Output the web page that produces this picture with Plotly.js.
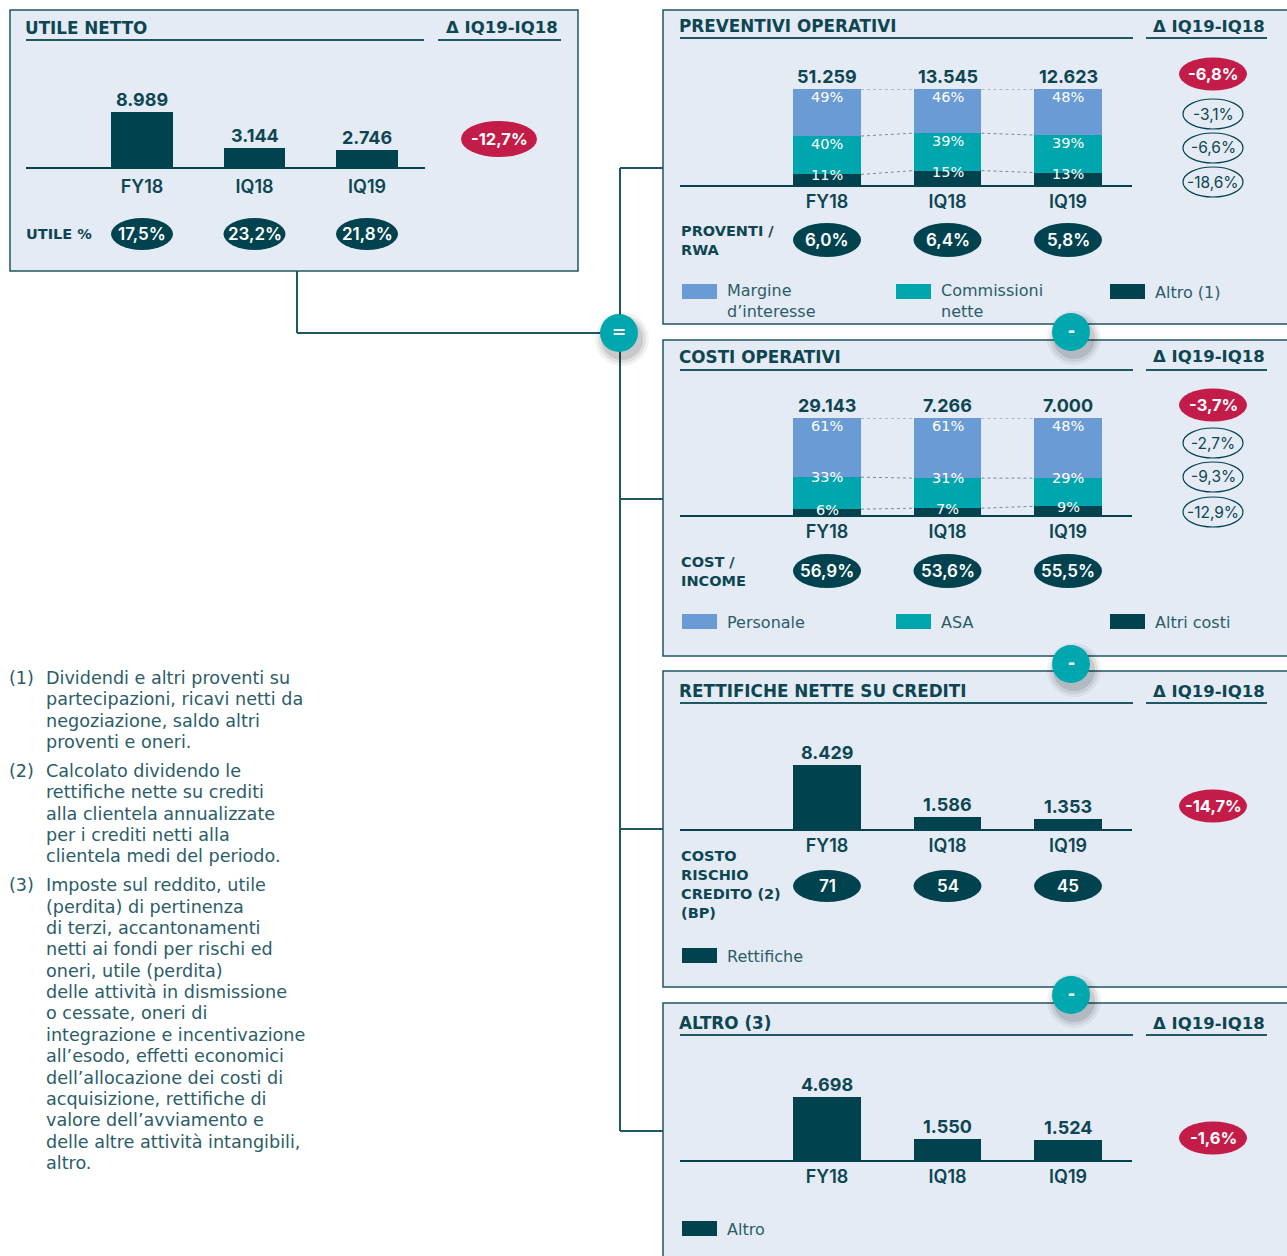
<!DOCTYPE html>
<html><head><meta charset="utf-8">
<script src="https://cdn.plot.ly/plotly-3.0.1.min.js"></script>
<style>html,body{margin:0;padding:0;background:#fff}#chart{width:1287px;height:1256px}</style>
</head><body><div id="chart"></div>
<script>
// ---------------- DATA ----------------
const categories = ['FY18', 'IQ18', 'IQ19'];
const deltaLabel = 'Δ IQ19-IQ18';

const utileNetto = [8989, 3144, 2746];
const utilePct = ['17,5%', '23,2%', '21,8%'];
const utileDelta = ['-12,7%'];

const proventiTot = [51259, 13545, 12623];
const provMargine = [49, 46, 48];
const provCommissioni = [40, 39, 39];
const provAltro = [11, 15, 13];
const proventiRwa = ['6,0%', '6,4%', '5,8%'];
const proventiDelta = ['-6,8%', '-3,1%', '-6,6%', '-18,6%'];
const proventiLegend = [['Margine', 'd’interesse'], ['Commissioni', 'nette'], ['Altro (1)']];

const costiTot = [29143, 7266, 7000];
const costiPersonale = [61, 61, 48];
const costiAsa = [33, 31, 29];
const costiAltri = [6, 7, 9];
const costIncome = ['56,9%', '53,6%', '55,5%'];
const costiDelta = ['-3,7%', '-2,7%', '-9,3%', '-12,9%'];
const costiLegend = [['Personale'], ['ASA'], ['Altri costi']];

const rettifiche = [8429, 1586, 1353];
const costoRischio = ['71', '54', '45'];
const rettificheDelta = ['-14,7%'];

const altro = [4698, 1550, 1524];
const altroDelta = ['-1,6%'];

const footnotes = [
  ['(1)', ['Dividendi e altri proventi su', 'partecipazioni, ricavi netti da', 'negoziazione, saldo altri', 'proventi e oneri.']],
  ['(2)', ['Calcolato dividendo le', 'rettifiche nette su crediti', 'alla clientela annualizzate', 'per i crediti netti alla', 'clientela medi del periodo.']],
  ['(3)', ['Imposte sul reddito, utile', '(perdita) di pertinenza', 'di terzi, accantonamenti', 'netti ai fondi per rischi ed', 'oneri, utile (perdita)', 'delle attività in dismissione', 'o cessate, oneri di', 'integrazione e incentivazione', 'all’esodo, effetti economici', 'dell’allocazione dei costi di', 'acquisizione, rettifiche di', 'valore dell’avviamento e', 'delle altre attività intangibili,', 'altro.']]
];

// ---------------- STYLE / LAYOUT HELPERS ----------------
const W = 1287, H = 1256;
const PX = x => x / W, PY = y => 1 - y / H;
const C = {dark:'#00434f', blue:'#6a9bd4', teal:'#00a6ae', red:'#c41c48', box:'#e4ebf5',
           border:'#1f5763', text:'#0d4652', legend:'#2b5d68', grey:'#7d8a90', circle:'#00a7ae'};
const FT = '"DejaVu Sans", "Noto Sans", sans-serif';
const FN = 'Inter, "Open Sans", sans-serif';
const fmt = n => String(n).replace(/\B(?=(\d{3})+(?!\d))/g, '.');

const traces = [], shapes = [], annotations = [];
const layout = {width: W, height: H, margin: {l:0, r:0, t:0, b:0}, paper_bgcolor: '#ffffff',
  plot_bgcolor: 'rgba(0,0,0,0)', showlegend: false, barmode: 'stack', bargap: 0,
  font: {family: FT, color: C.text}, shapes: shapes, annotations: annotations};

function font(size, color, weight, fam) { return {family: fam || FT, size: size, color: color || C.text, weight: weight || 400}; }
function txt(x, y, text, f, xanchor, extra) {
  annotations.push(Object.assign({xref:'paper', yref:'paper', x: PX(x), y: PY(y), text: text, showarrow: false,
    xanchor: xanchor || 'left', yanchor: 'middle', align: 'left', font: f}, extra || {}));
}
function rect(x0, y0, x1, y1, fill, line, lw) {
  shapes.push({type:'rect', xref:'paper', yref:'paper', x0:PX(x0), x1:PX(x1), y0:PY(y1), y1:PY(y0),
    fillcolor: fill, line: {color: line || 'rgba(0,0,0,0)', width: lw || 0}, layer:'below'});
}
function line(x0, y0, x1, y1, color, w) {
  shapes.push({type:'line', xref:'paper', yref:'paper', x0:PX(x0), x1:PX(x1), y0:PY(y0), y1:PY(y1),
    line: {color: color, width: w}, layer:'below'});
}
function ellipse(cx, cy, w, h, fill, lineColor, lw) {
  shapes.push({type:'circle', xref:'paper', yref:'paper', x0:PX(cx - w/2), x1:PX(cx + w/2), y0:PY(cy + h/2), y1:PY(cy - h/2),
    fillcolor: fill, line: {color: lineColor || 'rgba(0,0,0,0)', width: lw || 0}, layer:'below'});
}

// ---------------- BACKGROUND BOXES & CONNECTORS ----------------
rect(10, 10, 578, 271, C.box, C.border, 1.5);
rect(663, 10, 1300, 324, C.box, C.border, 1.5);
rect(663, 340, 1300, 656, C.box, C.border, 1.5);
rect(663, 671, 1300, 987, C.box, C.border, 1.5);
rect(663, 1003, 1300, 1280, C.box, C.border, 1.5);

line(297, 271, 297, 333, C.border, 2);
line(297, 333, 620, 333, C.border, 2);
line(620, 168, 620, 1131, C.border, 2);
[168, 499, 829, 1131].forEach(y => line(620, y, 663, y, C.border, 2));

// ---------------- PANELS ----------------
function makeAxes(s, cfg) {
  layout['xaxis' + s] = {domain:[PX(cfg.x0), PX(cfg.x1)], range:[(cfg.x0 - cfg.c0)/cfg.sp, (cfg.x1 - cfg.c0)/cfg.sp],
    anchor:'y' + s, tickmode:'array', tickvals:[0,1,2], ticktext:categories, ticks:'', showline:true, linecolor:C.dark,
    linewidth:2, showgrid:false, zeroline:false, fixedrange:true, tickfont: font(18, C.text, 600, FN),
    ticklabelstandoff: cfg.standoff};
  layout['yaxis' + s] = {domain:[PY(cfg.base), PY(cfg.top)], range:[0, cfg.ymax], visible:false, fixedrange:true};
}
function header(x0, x1, dx0, dx1, y, uy, title) {
  txt(x0 - 3, y, title, font(16.8, C.text, 700));
  line(x0, uy, x1, uy, C.border, 2.2);
  txt((dx0 + dx1)/2 + 2, y, deltaLabel, font(16.5, C.text, 700), 'center');
  line(dx0, uy, dx1, uy, C.border, 2.2);
}
function rowLabel(x, y, lines) {
  txt(x, y, lines.join('<br>'), font(14.5, C.text, 700), 'left');
}
function pills(s, cfg, labels, cy, wpx, hpx) {
  labels.forEach((lab, i) => {
    const w = wpx / cfg.sp;
    shapes.push({type:'circle', xref:'x' + s, yref:'paper', x0:i - w/2, x1:i + w/2, y0:PY(cy + hpx/2), y1:PY(cy - hpx/2),
      fillcolor:C.dark, line:{width:0}, layer:'below'});
    annotations.push({xref:'x' + s, yref:'paper', x:i, y:PY(cy), text:lab, showarrow:false, xanchor:'center', yanchor:'middle',
      font: font(17, '#ffffff', 600, FN)});
  });
}
function deltas(list, cx, cys, rw, rh) {
  list.forEach((lab, k) => {
    if (k === 0) {
      ellipse(cx, cys[k], rw || 68, rh || 33, C.red);
      txt(cx, cys[k], lab, font(16.5, '#ffffff', 700, FN), 'center');
    } else {
      ellipse(cx, cys[k], 60, 30, 'rgba(0,0,0,0)', C.dark, 1.2);
      txt(cx, cys[k], lab, font(15.5, C.text, 400, FN), 'center');
    }
  });
}
function legend(items, colors, y) {
  const xs = [682, 896, 1110];
  items.forEach((lines, k) => {
    rect(xs[k], y - 8, xs[k] + 35, y + 7, colors[k]);
    txt(xs[k] + 43, y + (lines.length - 1) * 9, lines.join('<br>'), font(16, C.legend, 400), 'left');
  });
}
function simpleBars(s, cfg, values, color, w) {
  traces.push({type:'bar', x:[0,1,2], y:values, xaxis:'x' + s, yaxis:'y' + s, width:w, marker:{color:color, line:{width:0}},
    hoverinfo:'skip'});
  values.forEach((v, i) => annotations.push({xref:'x' + s, yref:'y' + s, x:i, y:v, yshift:0, text:fmt(v), showarrow:false,
    xanchor:'center', yanchor:'bottom', font: font(18, C.text, 700, FN)}));
}
function stackedBars(s, cfg, series, colors, totals, w, midShift) {
  // series: [bottom, middle, top] percentages; the top segment fills the rest of each 100% bar
  const b1 = series[0].slice();
  const b2 = series[0].map((v, i) => v + series[1][i]);
  const b3 = [100, 100, 100];
  const drawn = [series[0], series[1], b2.map(v => 100 - v)];
  drawn.forEach((sh, k) => traces.push({type:'bar', x:[0,1,2], y:sh, xaxis:'x' + s, yaxis:'y' + s, width:w,
    marker:{color:colors[k], line:{width:0}}, hoverinfo:'skip'}));
  [b1, b2, b3].forEach(b => {
    const xs = [], ys = [];
    for (let i = 0; i < 2; i++) { xs.push(i + w/2, i + 1 - w/2, null); ys.push(b[i], b[i+1], null); }
    traces.push({type:'scatter', mode:'lines', x:xs, y:ys, xaxis:'x' + s, yaxis:'y' + s, hoverinfo:'skip',
      line:{color:C.grey, width:1, dash:'dot'}});
  });
  const segFont = font(14.5, '#ffffff', 400);
  [0,1,2].forEach(i => {
    annotations.push({xref:'x' + s, yref:'y' + s, x:i, y:b3[i], text:series[2][i] + '%', showarrow:false, yanchor:'middle', yshift:-8, font: segFont});
    annotations.push({xref:'x' + s, yref:'y' + s, x:i, y:b2[i], text:series[1][i] + '%', showarrow:false, yanchor:'middle', yshift:midShift, font: segFont});
    annotations.push({xref:'x' + s, yref:'y' + s, x:i, y:b1[i], text:series[0][i] + '%', showarrow:false, yanchor:'middle', yshift:-1, font: segFont});
    annotations.push({xref:'x' + s, yref:'y' + s, x:i, y:100, yshift:0, text:fmt(totals[i]), showarrow:false, yanchor:'bottom',
      font: font(18, C.text, 700, FN)});
  });
}

// Panel 1: UTILE NETTO
const P1 = {x0:26, x1:425, c0:142, sp:112.5, base:167, top:100, ymax:11000, standoff:2};
makeAxes('', P1);
header(26, 424, 438, 561, 28, 40, 'UTILE NETTO');
simpleBars('', P1, utileNetto, C.dark, 0.55);
rowLabel(24, 234, ['UTILE %']);
pills('', P1, utilePct, 234, 62, 32);
deltas(utileDelta, 499, [139], 76, 36);

// Panel 2: PROVENTI OPERATIVI
const P2 = {x0:680, x1:1132, c0:827, sp:120.5, base:185, top:89, ymax:100, standoff:-1};
makeAxes('2', P2);
header(680, 1133, 1146, 1267, 26, 38, 'PREVENTIVI OPERATIVI');
stackedBars('2', P2, [provAltro, provCommissioni, provMargine], [C.dark, C.teal, C.blue], proventiTot, 0.564, -8);
rowLabel(679, 241, ['PROVENTI /', 'RWA']);
pills('2', P2, proventiRwa, 240, 68, 34);
deltas(proventiDelta, 1213, [74, 114, 148, 182]);
legend(proventiLegend, [C.blue, C.teal, C.dark], 292);

// Panel 3: COSTI OPERATIVI
const P3 = {x0:680, x1:1132, c0:827, sp:120.5, base:515, top:418, ymax:100, standoff:-1};
makeAxes('3', P3);
header(680, 1133, 1146, 1267, 357, 370, 'COSTI OPERATIVI');
stackedBars('3', P3, [costiAltri, costiAsa, costiPersonale], [C.dark, C.teal, C.blue], costiTot, 0.564, 0);
rowLabel(679, 571, ['COST /', 'INCOME']);
pills('3', P3, costIncome, 571, 68, 34);
deltas(costiDelta, 1213, [405, 443, 477, 512]);
legend(costiLegend, [C.blue, C.teal, C.dark], 622);

// Panel 4: RETTIFICHE NETTE SU CREDITI
const P4 = {x0:680, x1:1132, c0:827, sp:120.5, base:829, top:740, ymax:11720, standoff:-1};
makeAxes('4', P4);
header(680, 1133, 1146, 1267, 691, 703, 'RETTIFICHE NETTE SU CREDITI');
simpleBars('4', P4, rettifiche, C.dark, 0.564);
rowLabel(679, 884, ['COSTO', 'RISCHIO', 'CREDITO (2)', '(BP)']);
pills('4', P4, costoRischio, 886, 68, 32);
deltas(rettificheDelta, 1213, [806]);
legend([['Rettifiche']], [C.dark], 956);

// Panel 5: ALTRO
const P5 = {x0:680, x1:1132, c0:827, sp:120.5, base:1160, top:1070, ymax:6700, standoff:-1};
makeAxes('5', P5);
header(680, 1133, 1146, 1267, 1023, 1035, 'ALTRO (3)');
simpleBars('5', P5, altro, C.dark, 0.564);
deltas(altroDelta, 1213, [1138]);
legend([['Altro']], [C.dark], 1229);

// Operator circles (with soft shadow)
[[619, 333, '='], [1071, 332, '-'], [1071, 664, '-'], [1071, 995, '-']].forEach(([cx, cy, sym]) => {
  [[27, 0.05], [24, 0.07], [21, 0.10]].forEach(([r, o]) =>
    ellipse(cx + 3, cy + 6, r * 2, r * 2, 'rgba(0,0,0,' + o + ')'));
  ellipse(cx, cy, 38, 38, C.circle);
  txt(cx, cy - 1, sym, font(17, '#ffffff', 700), 'center');
});

// Footnotes
let fy = 678;
footnotes.forEach(([num, lines]) => {
  txt(7, fy, num, font(17.6, C.legend, 400));
  lines.forEach((l, j) => txt(44, fy + j * 21.35, l, font(17.6, C.legend, 400)));
  fy += lines.length * 21.35 + 7.6;
});

Plotly.newPlot('chart', traces, layout, {displayModeBar:false, staticPlot:true});
</script></body></html>
